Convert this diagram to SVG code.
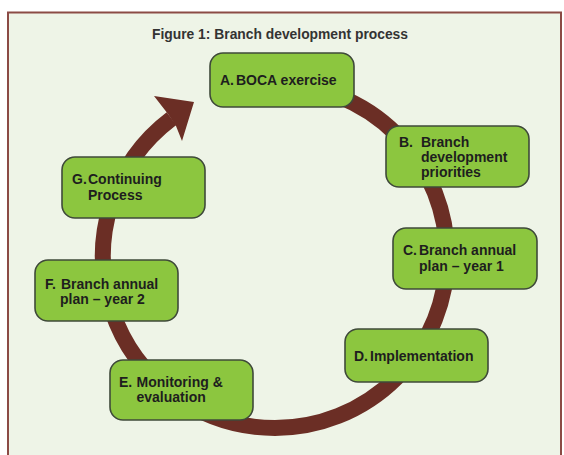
<svg xmlns="http://www.w3.org/2000/svg" width="564" height="455" viewBox="0 0 564 455">
<style>
.box{fill:#8cc63f;stroke:#3f4a3a;stroke-width:1.6}
.t{font-family:"Liberation Sans",Arial,sans-serif;font-weight:bold;font-size:14px;fill:#1e1e1e}
.title{font-family:"Liberation Sans",Arial,sans-serif;font-weight:bold;font-size:14px;fill:#333333}
.band{fill:none;stroke:#6b2e25;stroke-width:16}
</style>
<rect x="0" y="0" width="564" height="455" fill="#ffffff"/>
<rect x="8" y="12.5" width="553" height="470" fill="#eef4e7" stroke="#8b4b45" stroke-width="2"/>
<text class="title" x="152" y="39" textLength="256" lengthAdjust="spacingAndGlyphs">Figure 1: Branch development process</text>
<g id="connectors">
<path class="band" d="M 275 84 A 172 172 0 0 1 275 428 A 172 172 0 0 1 171.5 118.6"/>
<polygon points="154,96 194,102 182,141 176,126 168,114" fill="#6b2e25"/>
</g>
<g id="nodeA">
<rect class="box" x="210" y="53" width="144" height="54" rx="13"/>
<text class="t" y="85"><tspan x="220">A.</tspan><tspan x="236">BOCA exercise</tspan></text>
</g>
<g id="nodeB">
<rect class="box" x="386" y="126" width="143" height="61" rx="13"/>
<text class="t"><tspan x="399" y="146.5">B.</tspan><tspan x="421" y="146.5">Branch</tspan><tspan x="421" y="161.5">development</tspan><tspan x="421" y="177">priorities</tspan></text>
</g>
<g id="nodeC">
<rect class="box" x="393" y="228" width="144" height="61" rx="13"/>
<text class="t"><tspan x="403" y="255">C.</tspan><tspan x="419" y="255">Branch annual</tspan><tspan x="419" y="271">plan – year 1</tspan></text>
</g>
<g id="nodeD">
<rect class="box" x="345" y="329" width="143" height="53" rx="13"/>
<text class="t" y="361"><tspan x="354">D.</tspan><tspan x="370">Implementation</tspan></text>
</g>
<g id="nodeE">
<rect class="box" x="110" y="360" width="143" height="60" rx="13"/>
<text class="t"><tspan x="119" y="387">E.</tspan><tspan x="136.5" y="387">Monitoring &amp;</tspan><tspan x="136.5" y="402">evaluation</tspan></text>
</g>
<g id="nodeF">
<rect class="box" x="35" y="260" width="143" height="61" rx="13"/>
<text class="t"><tspan x="45" y="288.5">F.</tspan><tspan x="61" y="288.5">Branch annual</tspan><tspan x="60" y="304">plan – year 2</tspan></text>
</g>
<g id="nodeG">
<rect class="box" x="62" y="157" width="143" height="61" rx="13"/>
<text class="t"><tspan x="72" y="184">G.</tspan><tspan x="88" y="184">Continuing</tspan><tspan x="88" y="199.5">Process</tspan></text>
</g>
</svg>
